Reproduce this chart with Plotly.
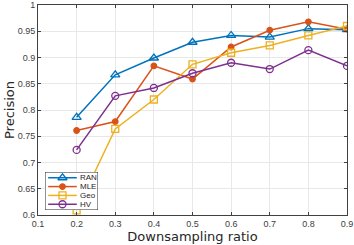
import plotly.graph_objects as go

ratios = [0.2, 0.3, 0.4, 0.5, 0.6, 0.7, 0.8, 0.9]
ran = [0.786, 0.867, 0.899, 0.929, 0.942, 0.939, 0.955, 0.953]
mle = [0.761, 0.778, 0.884, 0.859, 0.920, 0.952, 0.968, 0.954]
geo = [0.609, 0.764, 0.820, 0.887, 0.909, 0.923, 0.942, 0.960]
hv = [0.724, 0.827, 0.842, 0.870, 0.890, 0.878, 0.914, 0.884]

x_ticks = [0.1, 0.2, 0.3, 0.4, 0.5, 0.6, 0.7, 0.8, 0.9]
x_labels = ["0.1", "0.2", "0.3", "0.4", "0.5", "0.6", "0.7", "0.8", "0.9"]
y_ticks = [0.6, 0.65, 0.7, 0.75, 0.8, 0.85, 0.9, 0.95, 1.0]
y_labels = ["0.6", "0.65", "0.7", "0.75", "0.8", "0.85", "0.9", "0.95", "1"]

names = ["RAN", "MLE", "Geo", "HV"]
colors = ["#0072BD", "#D95319", "#EDB120", "#7E2F8E"]
symbols = ["triangle-up-open", "circle", "square-open", "circle-open"]
msizes = [8, 5.5, 7, 7]
values = [ran, mle, geo, hv]

W, H = 354, 245
L, R, T, B = 38, 7, 5, 30

fig = go.Figure()
for name, vals, color, sym, ms in zip(names, values, colors, symbols, msizes):
    fig.add_trace(go.Scatter(
        x=ratios, y=vals, name=name, mode="lines+markers",
        line=dict(color=color, width=1.5),
        marker=dict(symbol=sym, size=ms, color=color,
                    line=dict(color=color, width=1.3)),
        showlegend=False,
    ))

tickfont = dict(family="Liberation Sans, Arial, sans-serif", size=9, color="#404040")
axis_common = dict(
    showgrid=True, gridcolor="#e8e8e8", gridwidth=1,
    ticks="inside", ticklen=3, tickcolor="#404040",
    showline=True, linecolor="#404040", linewidth=1, mirror="allticks",
    tickfont=tickfont, zeroline=False, automargin=False,
)

fig.update_xaxes(range=[0.1, 0.9], tickvals=x_ticks, ticktext=x_labels,
                 title=dict(text="Downsampling ratio", standoff=0,
                            font=dict(family="DejaVu Sans", size=13, color="#262626")),
                 **axis_common)
fig.update_yaxes(range=[0.6, 1.0], tickvals=y_ticks, ticktext=y_labels,
                 title=dict(text="Precision", standoff=0,
                            font=dict(family="DejaVu Sans", size=13, color="#262626")),
                 **axis_common)

# legend drawn in a small inset axis (bottom-left of the plot)
pw, ph = W - L - R, H - T - B
lx0, lx1 = 45, 98      # pixel box
ly0, ly1 = 172, 210
dom_x = [(lx0 - L) / pw, (lx1 - L) / pw]
dom_y = [(H - B - ly1) / ph, (H - B - ly0) / ph]
n = len(names)

# legend box background + border
fig.add_trace(go.Scatter(
    x=[0, 1, 1, 0, 0], y=[0, 0, 1, 1, 0], mode="lines", fill="toself",
    fillcolor="white", line=dict(color="#262626", width=1),
    xaxis="x2", yaxis="y2", showlegend=False, hoverinfo="skip"))

for i, (name, color, sym, ms) in enumerate(zip(names, colors, symbols, msizes)):
    yy = (n - i - 0.5 + 0.15) / (n + 0.3)
    fig.add_trace(go.Scatter(
        x=[0.06, 0.33, 0.6], y=[yy, yy, yy], mode="lines",
        line=dict(color=color, width=1.5), xaxis="x2", yaxis="y2",
        showlegend=False, hoverinfo="skip"))
    fig.add_trace(go.Scatter(
        x=[0.33], y=[yy], mode="markers", xaxis="x2", yaxis="y2",
        marker=dict(symbol=sym, size=ms, color=color, line=dict(color=color, width=1.3)),
        showlegend=False, hoverinfo="skip"))
    fig.add_annotation(x=0.62, y=yy, xref="x2", yref="y2", text=name, showarrow=False,
                       xanchor="left", yanchor="middle",
                       font=dict(family="Liberation Sans, Arial, sans-serif", size=8, color="#262626"))

fig.update_layout(
    xaxis2=dict(domain=dom_x, range=[0, 1], anchor="y2", visible=False, fixedrange=True),
    yaxis2=dict(domain=dom_y, range=[0, 1], anchor="x2", visible=False, fixedrange=True),
)

fig.update_layout(
    width=W, height=H,
    margin=dict(l=L, r=R, t=T, b=B),
    paper_bgcolor="white", plot_bgcolor="white",
    showlegend=False,
)

fig.write_html("out.html", config={"displayModeBar": False},
               post_script="document.body.style.margin='0';")
